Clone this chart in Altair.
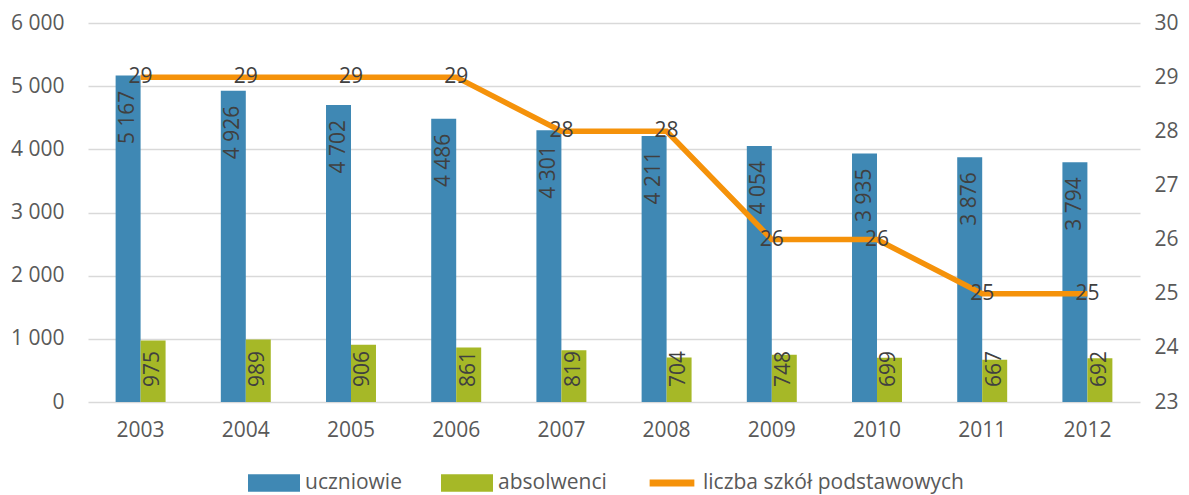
import altair as alt
import pandas as pd

years = ["2003", "2004", "2005", "2006", "2007", "2008", "2009", "2010", "2011", "2012"]
uczniowie = [5167, 4926, 4702, 4486, 4301, 4211, 4054, 3935, 3876, 3794]
absolwenci = [975, 989, 906, 861, 819, 704, 748, 699, 667, 692]
szkoly = [29, 29, 29, 29, 28, 28, 26, 26, 25, 25]
series = ["uczniowie", "absolwenci", "liczba szkół podstawowych"]
colors = ["#3F88B4", "#A6B827", "#F5920A"]

bars_df = pd.DataFrame(
    [{"rok": y, "series": series[0], "value": v} for y, v in zip(years, uczniowie)]
    + [{"rok": y, "series": series[1], "value": v} for y, v in zip(years, absolwenci)]
)
line_df = pd.DataFrame({"rok": years, "szkoly": szkoly})
legend_df = pd.DataFrame({"series": series})

FONT = "Open Sans"
LABEL = "#404040"
FS = 21

xscale = alt.Scale(domain=years, paddingInner=0.525, paddingOuter=0.2625)
x_enc = alt.X("rok:N", scale=xscale, sort=years,
              axis=alt.Axis(title=None, labelAngle=0, labelPadding=17, domain=False,
                            ticks=False, grid=False))
color_scale = alt.Scale(domain=series, range=colors)
shape_scale = alt.Scale(
    domain=series,
    range=["M-1,-0.34H1V0.34H-1Z", "M-1,-0.34H1V0.34H-1Z", "M-0.86,-0.13H0.86V0.13H-0.86Z"])
fmt = "replace(format(datum.value, ','), ',', ' ')"

leg_props = dict(
    title=None, orient="none", direction="horizontal", legendX=160, legendY=434,
    symbolSize=2704, symbolStrokeWidth=0, symbolOpacity=1, labelOffset=5, columnPadding=39,
    labelFont=FONT, labelFontSize=FS, labelColor="#595959", labelLimit=400,
)

base = alt.Chart(bars_df).transform_calculate(lab=fmt, zero="0")

bars = base.mark_bar().encode(
    x=x_enc,
    xOffset=alt.XOffset("series:N", scale=alt.Scale(domain=series[:2])),
    y=alt.Y("value:Q", scale=alt.Scale(domain=[0, 6000]),
            axis=alt.Axis(title=None, values=[0, 1000, 2000, 3000, 4000, 5000, 6000],
                          labelExpr=fmt, labelPadding=24, grid=True, domain=False,
                          ticks=False, gridColor="#D9D9D9", gridWidth=1.5)),
    color=alt.Color("series:N", scale=color_scale, legend=alt.Legend(**leg_props)),
)

blue_labels = base.transform_filter(alt.datum.series == series[0]).mark_text(
    angle=270, align="right", baseline="middle", dx=-15, font=FONT, fontSize=FS, color=LABEL
).encode(
    x=x_enc,
    xOffset=alt.XOffset("series:N", scale=alt.Scale(domain=series[:2])),
    y=alt.Y("value:Q"),
    text="lab:N",
)

green_labels = base.transform_filter(alt.datum.series == series[1]).mark_text(
    angle=270, align="left", baseline="middle", dx=15, font=FONT, fontSize=FS, color=LABEL
).encode(
    x=x_enc,
    xOffset=alt.XOffset("series:N", scale=alt.Scale(domain=series[:2])),
    y=alt.Y("zero:Q"),
    text="lab:N",
)

left = alt.layer(bars, blue_labels, green_labels)

line = alt.Chart(line_df).mark_line(color=colors[2], strokeWidth=5.5).encode(
    x=x_enc,
    y=alt.Y("szkoly:Q", scale=alt.Scale(domain=[23, 30]),
            axis=alt.Axis(title=None, orient="right", values=[23, 24, 25, 26, 27, 28, 29, 30],
                          format="d", labelPadding=14, grid=False, domain=False, ticks=False)),
)
line_labels = alt.Chart(line_df).mark_text(
    align="center", baseline="middle", font=FONT, fontSize=FS, color=LABEL
).encode(
    x=x_enc,
    y=alt.Y("szkoly:Q"),
    text="szkoly:Q",
)

legend_layer = alt.Chart(legend_df).mark_point(filled=True, opacity=0).encode(
    color=alt.Color("series:N", scale=color_scale, legend=alt.Legend(**leg_props)),
    shape=alt.Shape("series:N", scale=shape_scale, legend=alt.Legend(**leg_props)),
)

right = alt.layer(line, line_labels, legend_layer)

chart = alt.layer(left, right).resolve_scale(y="independent").properties(
    width=1052, height=379,
    autosize=alt.AutoSizeParams(type="none"),
    padding={"left": 80, "top": 15, "right": 41, "bottom": 130},
).configure_view(stroke=None).configure_axis(
    labelFont=FONT, labelFontSize=FS, labelColor="#595959"
)

chart.save("out.html", embed_options={"renderer": "svg", "actions": False})
